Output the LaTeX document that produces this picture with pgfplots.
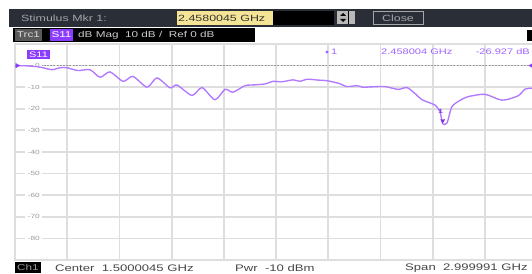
\documentclass[border=0pt]{standalone}
\usepackage{fontspec}
\setmainfont[FakeStretch=1.38]{Liberation Sans}
\usepackage{pgfplots}
\pgfplotsset{compat=1.18}
\definecolor{trace}{RGB}{178,120,255}
\definecolor{rdout}{RGB}{160,100,255}
\definecolor{mkr}{RGB}{125,45,235}
\definecolor{barbg}{RGB}{42,46,54}
\definecolor{sbox}{RGB}{140,60,255}
\definecolor{gridc}{RGB}{222,222,222}
\definecolor{lbl}{RGB}{165,165,170}
\definecolor{tick}{RGB}{155,155,155}
\definecolor{ybox}{RGB}{246,228,150}
\definecolor{btm}{RGB}{70,70,70}
\begin{document}
\begin{tikzpicture}[x=1pt,y=1pt]
\useasboundingbox (0,0) rectangle (532,273);
\clip (0,0) rectangle (532,273);
\fill[white] (0,0) rectangle (532,273);
% ---- top bar
\fill[barbg] (9,246) rectangle (532,264);
\node[anchor=west, text=lbl, font=\fontsize{9}{10}\selectfont, inner sep=0pt] at (21,255) {Stimulus Mkr 1:};
\fill[ybox] (177,248) rectangle (273,262);
\node[anchor=west, text=black!80, font=\fontsize{9}{10}\selectfont, inner sep=0pt] at (178,255) {2.4580045 GHz};
\fill[black] (273,248) rectangle (334,262);
\fill[gray!55] (337,249) rectangle (355,262);
\fill[black] (340,257) -- (346,257) -- (343,260) -- cycle;
\fill[black] (340,254) -- (346,254) -- (343,251) -- cycle;
\draw[black, line width=0.8pt] (348,249) -- (348,262);
\draw[gray!70, line width=1pt] (373,248.5) rectangle (423,261.5);
\node[text=lbl, font=\fontsize{9}{10}\selectfont, inner sep=0pt] at (398,255) {Close};
% ---- trace bar
\fill[black] (13,231) rectangle (255,245);
\fill[black!65] (15,232) rectangle (42,244);
\node[text=white!85!black, font=\fontsize{8.5}{9}\selectfont, inner sep=0pt] at (28.5,238) {Trc1};
\fill[sbox] (50,232) rectangle (73,244);
\node[text=white, font=\fontsize{8.5}{9}\selectfont, inner sep=0pt] at (61.5,238) {S11};
\node[anchor=west, text=white!80!black, font=\fontsize{8.5}{9}\selectfont, inner sep=0pt] at (78,238) {dB Mag\ \ 10 dB /\ \ Ref 0 dB};
\fill[black] (527,232) rectangle (532,243);
% ---- axis
\begin{axis}[
  at={(15pt,13pt)}, anchor=south west,
  width=522pt, height=216pt, scale only axis,
  xmin=0, xmax=3, ymin=-90, ymax=10,
  xtick={0,0.3,...,3}, ytick={-90,-80,...,10},
  xticklabels={}, yticklabels={},
  major tick length=0pt,
  grid=major,
  major grid style={draw=gridc, line width=1.8pt},
  axis line style={draw=gridc, line width=1.8pt},
  clip=true,
]
\addplot[draw=tick, line width=1.1pt, dash pattern=on 2pt off 1.2pt] coordinates {(0,0) (3,0)};
\pgfplotsinvokeforeach{0,-10,-20,-30,-40,-50,-60,-70,-80}{
  \node[anchor=east, fill=white, inner xsep=2.5pt, inner ysep=0.5pt, text=tick, font=\fontsize{6}{6}\selectfont] at (axis cs:0.158,#1) {#1};
}
\addplot[trace, line width=1.35pt, smooth, tension=0.45] coordinates {
(0.000,0.0) (0.060,-0.1) (0.126,-0.5) (0.161,-1.0) (0.213,-1.9) (0.259,-1.0) (0.299,-1.0)
(0.362,-2.3) (0.431,-1.9) (0.489,-5.4) (0.546,-2.9) (0.621,-7.3) (0.678,-5.0)
(0.759,-10.0) (0.816,-5.7) (0.891,-10.3) (0.931,-9.0) (1.017,-13.8) (1.075,-10.2)
(1.149,-15.8) (1.207,-11.0) (1.253,-12.3) (1.322,-9.3) (1.380,-8.9) (1.437,-8.5) (1.483,-7.3)
(1.534,-7.5) (1.598,-6.6) (1.638,-7.3) (1.678,-6.3) (1.740,-6.7) (1.793,-7.0) (1.860,-8.2) (1.908,-9.7)
(1.966,-9.3) (2.000,-10.0) (2.060,-9.8) (2.126,-9.7) (2.201,-11.0) (2.253,-10.2) (2.300,-13.0) (2.339,-15.8)
(2.414,-18.3) (2.443,-21.5) (2.458,-26.9) (2.483,-26.5) (2.511,-19.0) (2.560,-16.0) (2.603,-14.4)
(2.701,-13.3) (2.799,-16.0) (2.891,-14.0) (2.931,-10.9) (2.971,-10.5) (3.000,-10.4)
};
\addplot[only marks, mark=triangle*, mark size=2.3pt, mark options={rotate=180, fill=mkr, draw=mkr}] coordinates {(2.458,-25.5)};
\node[text=mkr, font=\bfseries\fontsize{6}{6}\selectfont, inner sep=0pt] at (axis cs:2.447,-21) {1};
\addplot[only marks, mark=triangle*, mark size=2.5pt, mark options={rotate=-90, fill=sbox, draw=sbox}] coordinates {(0.012,0)};
\addplot[only marks, mark=triangle*, mark size=2.5pt, mark options={rotate=90, fill=sbox, draw=sbox}] coordinates {(2.968,0)};
\end{axis}
% ---- S11 label in diagram
\fill[sbox] (27,214) rectangle (50,223);
\node[text=white, font=\fontsize{8}{8}\selectfont, inner sep=0pt] at (38.5,218.5) {S11};
% ---- marker readout
\fill[rdout] (327,221) circle (1.6pt);
\node[anchor=west, text=rdout, font=\fontsize{8}{8}\selectfont, inner sep=0pt] at (331,221) {1};
\node[anchor=west, text=rdout, font=\fontsize{8}{8}\selectfont, inner sep=0pt] at (381,221) {2.458004 GHz};
\node[anchor=east, text=rdout, font=\fontsize{8}{8}\selectfont, inner sep=0pt] at (530,221) {-26.927 dB};
% ---- bottom bar
\fill[black] (15,0) rectangle (41,11);
\node[text=gray!80, font=\fontsize{8.5}{9}\selectfont, inner sep=0pt] at (28,5.5) {Ch1};
\node[anchor=west, text=btm, font=\fontsize{9.5}{10}\selectfont, inner sep=0pt] at (55,5) {Center\ \ 1.5000045 GHz};
\node[anchor=west, text=btm, font=\fontsize{9.5}{10}\selectfont, inner sep=0pt] at (235,5) {Pwr\ \ -10 dBm};
\node[anchor=west, text=btm, font=\fontsize{9.5}{10}\selectfont, inner sep=0pt] at (405,5) {Span\ \ 2.999991 GHz};
\end{tikzpicture}
\end{document}
